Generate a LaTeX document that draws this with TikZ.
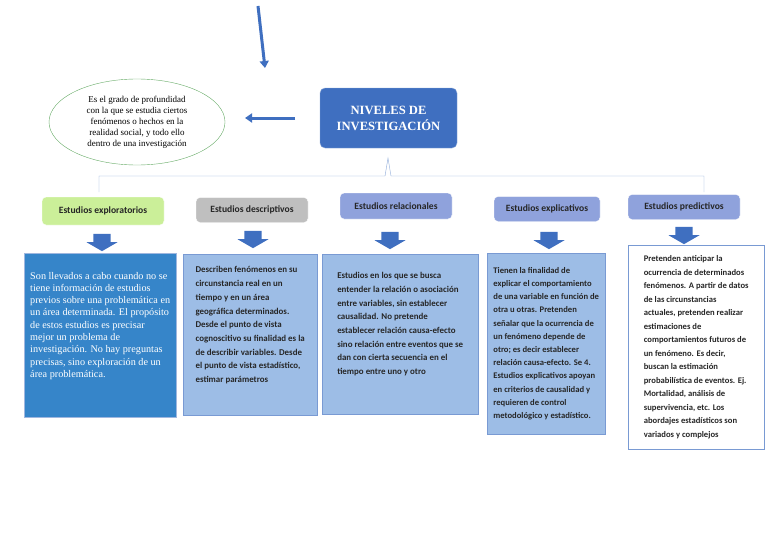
\documentclass[tikz,border=0pt]{standalone}
\usepackage{fontspec}
\setmainfont{Carlito}
\newfontfamily\serifx{Liberation Serif}
\usetikzlibrary{shapes.geometric,shapes.arrows,arrows.meta}
\definecolor{dblue}{HTML}{3F6FC0}
\definecolor{lblue}{HTML}{9DBDE6}
\definecolor{lav}{HTML}{8FA2DC}
\tikzset{
 head/.style={rounded corners=4pt,draw=white,font=\bfseries\fontsize{9.6}{11}\selectfont,text=black!85},
 body/.style={draw=dblue!70,fill=lblue,align=left,anchor=north west,inner sep=4pt,font=\bfseries\fontsize{8.9}{13.7}\selectfont,text=black!85},
 dnarrow/.style={single arrow,shape border rotate=270,fill=dblue,minimum height=17pt,minimum width=31pt,single arrow head extend=5pt,single arrow tip angle=120,inner sep=6pt},
}
\begin{document}
\begin{tikzpicture}[x=1pt,y=-1pt]
\useasboundingbox[fill=white] (0,0) rectangle (768,543);
% top arrow
\coordinate (t1) at (258,6); \coordinate (t2) at (265,68);
\draw[dblue,line width=3pt,-{Triangle[length=7pt,width=9pt]}] (t1) -- (t2);
% ellipse
\node[ellipse,draw=green!45!black!60,minimum width=176pt,minimum height=86pt,font=\serifx\fontsize{9}{11}\selectfont,align=center] (el) at (137,122) {Es el grado de profundidad\\con la que se estudia ciertos\\fenómenos o hechos en la\\realidad social, y todo ello\\dentro de una investigación};
% title
\node[rounded corners=5pt,fill=dblue,draw=dblue!60,minimum width=137pt,minimum height=60pt,text=white,align=center,font=\serifx\bfseries\fontsize{12.6}{16}\selectfont] (ti) at (388.5,118) {NIVELES DE\\INVESTIGACIÓN};
\coordinate (la) at (295,118); \coordinate (lb) at (245,118);
\draw[dblue,line width=3pt,-{Triangle[length=7pt,width=9pt]}] (la) -- (lb);
% brace
\coordinate (b0) at (99,192); \coordinate (b1) at (704,192);
\draw[dblue!60,thin] (b0) -- (99,176) -- (385,176) -- (388,158) -- (391,176) -- (704,176) -- (b1);
% headers
\node[head,fill=green!55!black!35!lime!40!white,minimum width=122pt,minimum height=28pt] (h1) at (103,211) {Estudios exploratorios};
\node[head,fill=black!25,minimum width=112pt,minimum height=25pt] (h2) at (252,210) {Estudios descriptivos};
\node[head,fill=lav,minimum width=112pt,minimum height=26pt] (h3) at (396,206) {Estudios relacionales};
\node[head,fill=lav,minimum width=106pt,minimum height=25pt] (h4) at (547,209) {Estudios explicativos};
\node[head,fill=lav,minimum width=112pt,minimum height=25pt] (h5) at (684,207) {Estudios predictivos};
% arrows
\node[dnarrow] (a1) at (102,240) {};
\node[dnarrow] (a2) at (253,237) {};
\node[dnarrow] (a3) at (390,238) {};
\node[dnarrow] (a4) at (549,238) {};
\node[dnarrow] (a5) at (684,233) {};
% bodies
\node[body,fill=dblue!85!cyan,draw=dblue!50,minimum width=152pt,minimum height=164pt,text=white,font=\serifx\fontsize{10.2}{12.3}\selectfont,inner sep=3pt] (c1) at (24,253) {\\[6pt]Son llevados a cabo cuando no se\\tiene información de estudios\\previos sobre una problemática en\\un área determinada. El propósito\\de estos estudios es precisar\\mejor un problema de\\investigación. No hay preguntas\\precisas, sino exploración de un\\área problemática.\\[20pt]};
\node[body,minimum width=134pt,minimum height=161pt] (c2) at (183,254) {\\[-6pt]Describen fenómenos en su\\circunstancia real en un\\tiempo y en un área\\geográfica determinados.\\Desde el punto de vista\\cognoscitivo su finalidad es la\\de describir variables. Desde\\el punto de vista estadístico,\\estimar parámetros\\[8pt]};
\node[body,minimum width=156pt,minimum height=160pt] (c3) at (322,254) {\\[-3pt]Estudios en los que se busca\\entender la relación o asociación\\entre variables, sin establecer\\causalidad. No pretende\\establecer relación causa-efecto\\sino relación entre eventos que se\\dan con cierta secuencia en el\\tiempo entre uno y otro\\[12pt]};
\node[body,minimum width=118pt,minimum height=181pt,font=\bfseries\fontsize{8.6}{13.2}\selectfont] (c4) at (487,253) {Tienen la finalidad de\\explicar el comportamiento\\de una variable en función de\\otra u otras. Pretenden\\señalar que la ocurrencia de\\un fenómeno depende de\\otro; es decir establecer\\relación causa-efecto. Se 4.\\Estudios explicativos apoyan\\en criterios de causalidad y\\requieren de control\\metodológico y estadístico.};
\node[body,fill=white,minimum width=136pt,minimum height=204pt,font=\bfseries\fontsize{8.6}{13.5}\selectfont] (c5) at (628,245) {Pretenden anticipar la\\ocurrencia de determinados\\fenómenos. A partir de datos\\de las circunstancias\\actuales, pretenden realizar\\estimaciones de\\comportamientos futuros de\\un fenómeno. Es decir,\\buscan la estimación\\probabilística de eventos. Ej.\\Mortalidad, análisis de\\supervivencia, etc. Los\\abordajes estadísticos son\\variados y complejos};
\end{tikzpicture}
\end{document}
